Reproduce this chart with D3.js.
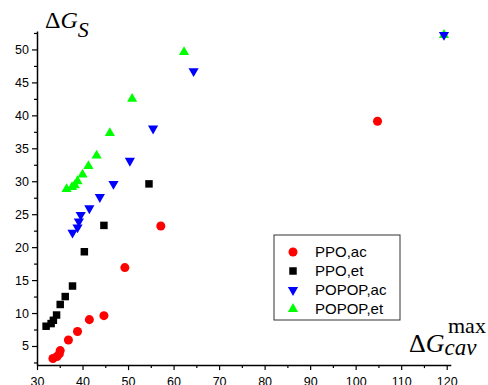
<!DOCTYPE html>
<html>
<head>
<meta charset="utf-8">
<script src="https://cdn.jsdelivr.net/npm/d3@7"></script>
<style>
  body { margin: 0; background: #fff; }
  svg { display: block; }
  .tick text { font-family: "Liberation Sans", Arial, sans-serif; font-size: 12.5px; fill: #000; }
</style>
</head>
<body>
<div id="chart"></div>
<script>
// series values
const ppoAcX = [33.5, 34.4, 34.9, 35.1, 36.9, 38.9, 41.5, 44.7, 49.3, 57.2, 104.8];
const ppoAcY = [3.1, 3.4, 3.8, 4.3, 5.9, 7.2, 9.0, 9.6, 16.9, 23.2, 39.1];

const ppoEtX = [32.0, 33.1, 33.6, 34.3, 35.1, 36.2, 37.8, 40.4, 44.7, 54.6];
const ppoEtY = [8.0, 8.4, 8.9, 9.7, 11.3, 12.5, 14.1, 19.3, 23.3, 29.6];

const popopAcX = [37.8, 38.9, 39.2, 39.6, 41.5, 43.8, 46.8, 50.4, 55.5, 64.4, 119.4];
const popopAcY = [22.2, 23.0, 23.9, 24.9, 25.9, 27.6, 29.6, 33.1, 38.0, 46.7, 52.2];

const popopEtX = [36.5, 37.7, 38.3, 38.9, 40.0, 41.3, 43.1, 46.0, 50.9, 62.3, 119.4];
const popopEtY = [28.8, 29.1, 29.4, 30.0, 31.0, 32.3, 33.9, 37.3, 42.5, 49.6, 52.2];

const seriesNames = ['PPO,ac', 'PPO,et', 'POPOP,ac', 'POPOP,et'];

const xMajorTicks = [30, 40, 50, 60, 70, 80, 90, 100, 110, 120];
const xMinorTicks = [35, 45, 55, 65, 75, 85, 95, 105, 115];
const yMajorTicks = [5, 10, 15, 20, 25, 30, 35, 40, 45, 50];
const yMinorTicks = [2.5, 7.5, 12.5, 17.5, 22.5, 27.5, 32.5, 37.5, 42.5, 47.5, 52.5];

const width = 488, height = 385;

const svg = d3.select('#chart').append('svg')
    .attr('width', width)
    .attr('height', height);

// scales (domain runs a bit past the last tick like the original)
const x = d3.scaleLinear().domain([30, 120.9]).range([37, 450.8]);
const y = d3.scaleLinear().domain([2.1, 52.8]).range([365.1, 31]);

const yAxisX = x(30);
const xAxisY = y(2.1);

// x axis
const xMajor = svg.append('g')
    .attr('transform', `translate(0,${xAxisY})`)
    .call(d3.axisBottom(x).tickValues(xMajorTicks).tickSize(5).tickSizeOuter(0).tickPadding(7));
svg.append('g')
    .attr('transform', `translate(0,${xAxisY})`)
    .call(d3.axisBottom(x).tickValues(xMinorTicks).tickSize(3).tickFormat(''))
    .call(g => g.select('.domain').remove());

// y axis
const yMajor = svg.append('g')
    .attr('transform', `translate(${yAxisX},0)`)
    .call(d3.axisLeft(y).tickValues(yMajorTicks).tickSize(5).tickSizeOuter(0).tickPadding(3));
svg.append('g')
    .attr('transform', `translate(${yAxisX},0)`)
    .call(d3.axisLeft(y).tickValues(yMinorTicks).tickSize(3).tickFormat(''))
    .call(g => g.select('.domain').remove());

svg.selectAll('.domain').attr('stroke-width', 1.5);
svg.selectAll('.tick line').attr('stroke-width', 1.2);

// series definitions
const series = [
    { name: seriesNames[0], xs: ppoAcX, ys: ppoAcY, color: '#ff0000', type: d3.symbolCircle, size: 64, rot: 0 },
    { name: seriesNames[1], xs: ppoEtX, ys: ppoEtY, color: '#000000', type: d3.symbolSquare, size: 56, rot: 0 },
    { name: seriesNames[2], xs: popopAcX, ys: popopAcY, color: '#0000ff', type: d3.symbolTriangle, size: 45, rot: 180 },
    { name: seriesNames[3], xs: popopEtX, ys: popopEtY, color: '#00ff00', type: d3.symbolTriangle, size: 45, rot: 0 }
];

// draw last series first so red ends up on top
series.slice().reverse().forEach(s => {
    const sym = d3.symbol().type(s.type).size(s.size);
    svg.append('g')
        .selectAll('path')
        .data(s.xs.map((v, i) => [v, s.ys[i]]))
        .join('path')
        .attr('d', sym)
        .attr('fill', s.color)
        .attr('transform', d => `translate(${x(d[0])},${y(d[1])}) rotate(${s.rot})`);
});

// legend
const legend = svg.append('g');
legend.append('rect')
    .attr('x', 274).attr('y', 235)
    .attr('width', 126).attr('height', 85)
    .attr('fill', '#fff')
    .attr('stroke', '#333')
    .attr('stroke-width', 1);

series.forEach((s, i) => {
    const rowY = 252 + i * 19;
    legend.append('path')
        .attr('d', d3.symbol().type(s.type).size(s.size)())
        .attr('fill', s.color)
        .attr('transform', `translate(293,${rowY}) rotate(${s.rot})`);
    legend.append('text')
        .attr('x', 315)
        .attr('y', rowY)
        .attr('dy', '0.36em')
        .style('font-family', '"Liberation Sans", Arial, sans-serif')
        .style('font-size', '15px')
        .text(s.name);
});

// axis titles
const serif = '"Liberation Serif", "Times New Roman", serif';

const yTitle = svg.append('text')
    .attr('x', 45)
    .attr('y', 28)
    .style('font-family', serif)
    .style('font-size', '24px');
yTitle.append('tspan').text('Δ');
yTitle.append('tspan').style('font-style', 'italic').text('G');
yTitle.append('tspan').style('font-style', 'italic').style('font-size', '22px').attr('dy', 9).text('S');

const xTitle = svg.append('text')
    .attr('x', 409)
    .attr('y', 352)
    .style('font-family', serif)
    .style('font-size', '26px');
xTitle.append('tspan').text('Δ');
xTitle.append('tspan').style('font-style', 'italic').text('G');
xTitle.append('tspan').style('font-style', 'italic').style('font-size', '23px').attr('dy', 3).text('cav');
svg.append('text')
    .attr('x', 448)
    .attr('y', 333)
    .style('font-family', serif)
    .style('font-size', '22px')
    .text('max');
</script>
</body>
</html>
